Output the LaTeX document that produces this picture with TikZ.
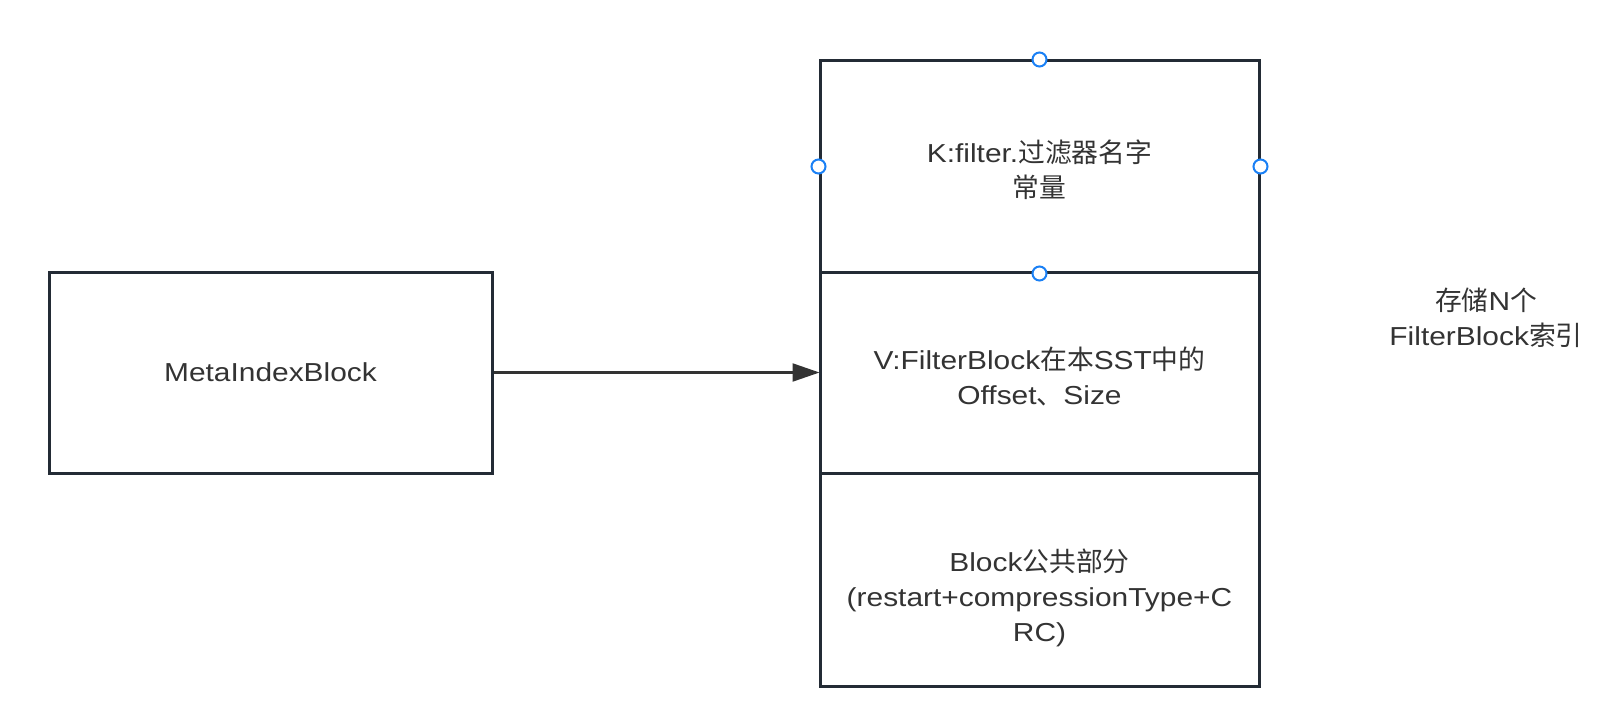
\documentclass[tikz,border=0pt]{standalone}
\usepackage{fontspec}
\setmainfont{Liberation Sans}[FakeStretch=1.15]
\newfontfamily\cjk{Noto Sans CJK SC}[Scale=1.03]
\usetikzlibrary{arrows.meta}
\definecolor{boxline}{HTML}{232B35}
\definecolor{txt}{HTML}{333333}
\definecolor{handleblue}{HTML}{1A80F5}
\tikzset{
  cell/.style={draw=boxline, line width=3pt, inner sep=0pt, minimum width=439pt},
  lbl/.style={text=txt, align=center, font=\fontsize{26}{35}\selectfont, inner sep=0pt},
  handle/.style={circle, draw=handleblue, fill=white, line width=2pt, inner sep=0pt, minimum size=14pt},
  link/.style={draw=txt, line width=2.2pt, -{Triangle[length=27pt,width=18pt]}, shorten >=-1pt}
}
\begin{document}
\begin{tikzpicture}[x=1pt,y=-1pt]
\useasboundingbox (0,0) rectangle (1598,714);
% left box
\node[cell, minimum width=443pt, minimum height=201pt] (meta) at (270.5,372.5) {};
\node[lbl] (metal) at (270.5,372) {MetaIndexBlock};
% right column
\node[cell, minimum height=211pt] (k) at (1039.5,166.5) {};
\node[cell, minimum height=201pt] (v) at (1039.5,372.5) {};
\node[cell, minimum height=213pt] (b) at (1039.5,579.5) {};
\node[lbl] (kl) at (1039.5,170) {K:filter.{\cjk 过滤器名字}\\{\cjk 常量}};
\node[lbl] (vl) at (1039.5,376) {V:FilterBlock{\cjk 在本}SST{\cjk 中的}\\Offset{\cjk 、}Size};
\node[lbl] (bl) at (1039.5,598) {Block{\cjk 公共部分}\\(restart+compressionType+C\\RC)};
% right note
\node[lbl] (note) at (1486,318) {{\cjk 存储}N{\cjk 个}\\FilterBlock{\cjk 索引}};
% arrow
\draw[link] (meta.east) -- (v.west);
% selection handles
\node[handle] (h1) at (k.north) {};
\node[handle] (h2) at (k.west) {};
\node[handle] (h3) at (k.east) {};
\node[handle] (h4) at (k.south) {};
\end{tikzpicture}
\end{document}
